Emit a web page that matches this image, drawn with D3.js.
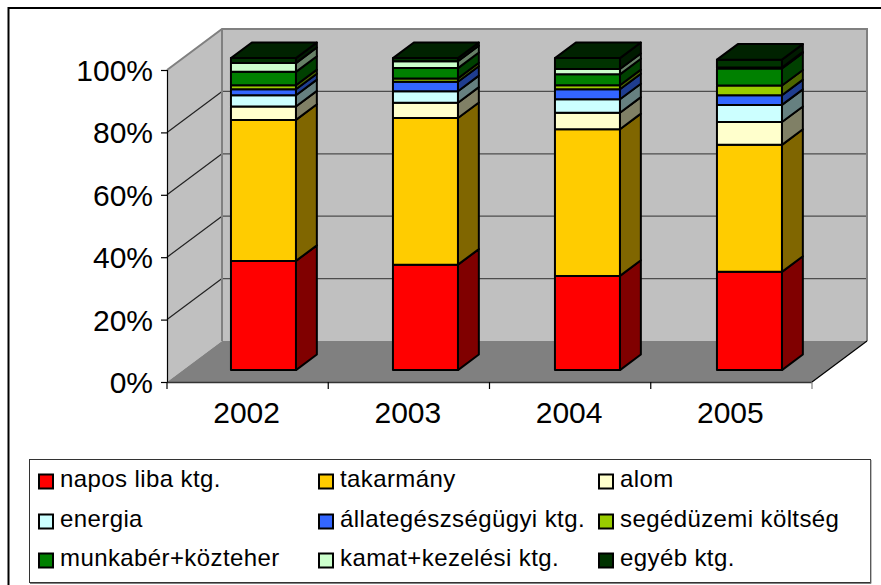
<!DOCTYPE html>
<html><head><meta charset="utf-8">
<script src="https://cdn.jsdelivr.net/npm/d3@7/dist/d3.min.js"></script>
<style>html,body{margin:0;padding:0;background:#fff;overflow:hidden}svg{display:block}text{font-family:"Liberation Sans",Arial,sans-serif;fill:#000}</style>
</head><body><script>
const years = ["2002","2003","2004","2005"];
const seriesNames = ["napos liba ktg.","takarmány","alom","energia","állategészségügyi ktg.","segédüzemi költség","munkabér+közteher","kamat+kezelési ktg.","egyéb ktg."];
const frontColors = ["#ff0000","#ffcc00","#ffffcc","#ccffff","#3366ff","#99cc00","#008000","#ccffcc","#003300"];
const sideColors = ["#800000","#806600","#808066","#668080","#1f3d8f","#4d6600","#004000","#668066","#001a00"];
const roofColor = "#002200";
const napos = [35.0,33.8,30.2,31.5];
const takarmany = [45.2,47.0,47.0,40.7];
const alom = [4.3,4.9,5.3,7.3];
const energia = [3.6,3.7,4.3,5.5];
const allateg = [1.9,3.0,3.2,3.1];
const seged = [1.3,1.1,1.3,3.1];
const munkaber = [4.3,3.3,3.5,5.5];
const kamat = [2.8,2.2,1.7,0.3];
const egyeb = [1.6,1.0,3.5,2.5];
const seriesValues = [napos,takarmany,alom,energia,allateg,seged,munkaber,kamat,egyeb];
const yTicks = [0,20,40,60,80,100];

const svg = d3.select("body").append("svg").attr("width",881).attr("height",585);
svg.append("path").attr("d","M8.5,585V8H881").attr("fill","none").attr("stroke","#000").attr("stroke-width",2);

const x = d3.scaleBand().domain(years).range([167,812]);
const xBar = d3.scaleBand().domain(years).range([166.5,814.5]);
const xc = d3.scaleLinear().domain([0,4]).range([167,812]);
const y = d3.scaleLinear().domain([0,100]).range([382,70]);
const dX = d3.scaleLinear().domain([0,1]).range([0,55]);
const dY = d3.scaleLinear().domain([0,1]).range([0,-41]);
const P = (px,val,d)=>[px+dX(d), y(val)+dY(d)];
const poly = pts => "M"+pts.map(p=>p.join(",")).join("L")+"Z";

const g = svg.append("g");
g.append("path").attr("d",poly([P(167,0,1),P(812,0,1),P(812,100,1),P(167,100,1)])).attr("fill","#c0c0c0");
g.append("path").attr("d",poly([P(167,0,0),P(167,0,1),P(167,100,1),P(167,100,0)])).attr("fill","#c0c0c0");
g.append("path").attr("d",poly([P(167,0,0),P(812,0,0),P(812,0,1),P(167,0,1)])).attr("fill","#808080");
yTicks.slice(1,-1).forEach(t=>{
  g.append("line").attr("x1",P(167,t,1)[0]).attr("y1",P(167,t,1)[1]).attr("x2",P(812,t,1)[0]).attr("y2",P(812,t,1)[1]).attr("stroke","#4d4d4d").attr("stroke-width",1.2);
  g.append("line").attr("x1",P(167,t,0)[0]).attr("y1",P(167,t,0)[1]).attr("x2",P(167,t,1)[0]).attr("y2",P(167,t,1)[1]).attr("stroke","#222").attr("stroke-width",1.2);
});
g.append("path").attr("d","M"+[P(167,100,0),P(167,100,1),P(812,100,1),P(812,0,1)].map(p=>p.join(",")).join("L")).attr("fill","none").attr("stroke","#808080").attr("stroke-width",2);
g.append("line").attr("x1",P(167,0,1)[0]).attr("y1",P(167,0,1)[1]).attr("x2",P(167,100,1)[0]).attr("y2",P(167,100,1)[1]).attr("stroke","#808080").attr("stroke-width",2);
g.append("line").attr("x1",P(812,0,0)[0]).attr("y1",P(812,0,0)[1]).attr("x2",P(812,0,1)[0]).attr("y2",P(812,0,1)[1]).attr("stroke","#000").attr("stroke-width",1.2);

const axisLeft = d3.axisLeft(y).tickValues(yTicks).tickFormat(d=>d+"%").tickSize(6).tickPadding(8);
const ay = svg.append("g").attr("transform","translate(167,0)").call(axisLeft);
ay.selectAll("text").style("font-size","30px").attr("dy","0.35em");
ay.selectAll("line,path").attr("stroke","#000").attr("stroke-width",1.2);
const axisB = d3.axisBottom(x).tickSize(0).tickPadding(20);
const ax = svg.append("g").attr("transform","translate(-1,382)").call(axisB);
ax.selectAll("text").style("font-size","30px");
ax.select("path").remove();
svg.append("line").attr("x1",167).attr("x2",812).attr("y1",382.5).attr("y2",382.5).attr("stroke","#333").attr("stroke-width",1.5);
svg.append("g").selectAll("line").data(d3.range(5)).join("line")
  .attr("x1",d=>xc(d)).attr("x2",d=>xc(d)).attr("y1",382).attr("y2",389)
  .attr("stroke",d=>d===4?"#808080":"#000").attr("stroke-width",1.2);

const dFront=0.29, dBack=0.67;
const barW = 65;
const bars = svg.append("g").attr("stroke","#000").attr("stroke-width",2).attr("stroke-linejoin","round");
years.forEach((yr,i)=>{
  const x0 = xBar(yr)+ (xBar.bandwidth()-barW)/2;
  const x1 = x0+barW;
  let cum=0;
  seriesValues.forEach((vals,s)=>{
    const a=cum, b=cum+vals[i]; cum=b;
    bars.append("path").attr("d",poly([P(x1,a,dFront),P(x1,a,dBack),P(x1,b,dBack),P(x1,b,dFront)])).attr("fill",sideColors[s]);
    bars.append("path").attr("d",poly([P(x0,a,dFront),P(x1,a,dFront),P(x1,b,dFront),P(x0,b,dFront)])).attr("fill",frontColors[s]);
  });
  bars.append("path").attr("d",poly([P(x0,cum,dFront),P(x1,cum,dFront),P(x1,cum,dBack),P(x0,cum,dBack)])).attr("fill",roofColor);
});

svg.append("rect").attr("x",29.5).attr("y",459.5).attr("width",841).attr("height",123).attr("fill","#fff").attr("stroke","#333").attr("stroke-width",1);
svg.append("path").attr("d","M871,460V583.5H30").attr("fill","none").attr("stroke","#808080").attr("stroke-width",1);
const colX=[38,318,598], rowY=[480,520,559];
const lg = svg.append("g").selectAll("g").data(seriesNames).join("g")
  .attr("transform",(d,i)=>`translate(${colX[i%3]},${rowY[Math.floor(i/3)]})`);
lg.append("rect").attr("x",1).attr("y",-5.5).attr("width",14).attr("height",14).attr("fill",(d,i)=>frontColors[i]).attr("stroke","#000").attr("stroke-width",2);
lg.append("text").attr("x",22).attr("dy","0.3em").style("font-size","24px").style("letter-spacing","0.4px").text(d=>d);
</script></body></html>
